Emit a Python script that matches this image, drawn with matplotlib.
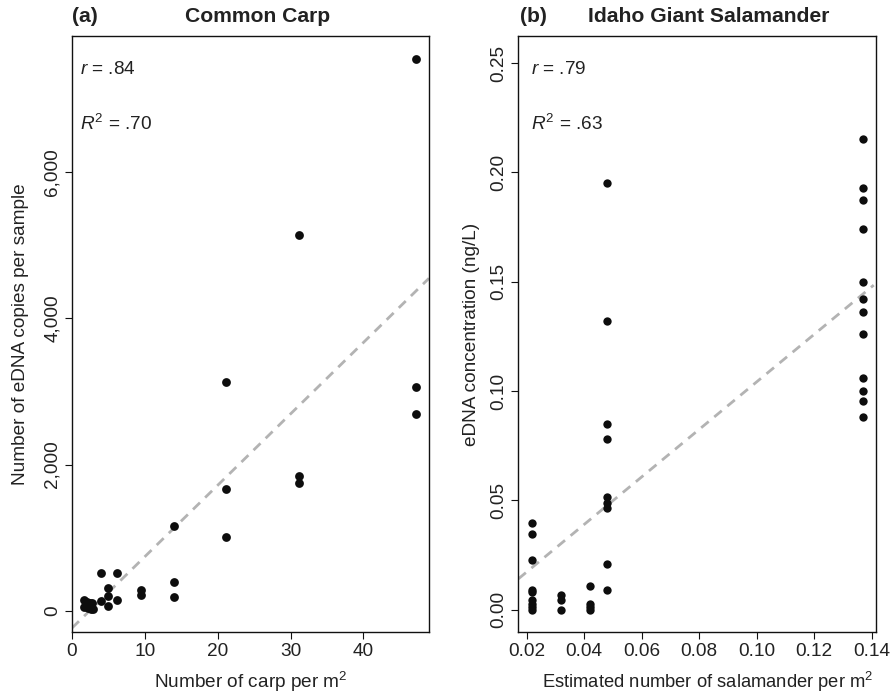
import numpy as np
import matplotlib
matplotlib.use("Agg")
import matplotlib.pyplot as plt
from matplotlib.ticker import FuncFormatter

plt.rcParams["font.family"] = ["Liberation Sans", "DejaVu Sans"]
plt.rcParams["mathtext.fontset"] = "custom"
plt.rcParams["mathtext.rm"] = "Liberation Sans"
plt.rcParams["mathtext.it"] = "Liberation Sans:italic"

# (a) common carp: density vs eDNA copies
carp_density = [47.2, 31.1, 21.2, 47.2, 47.2, 31.1, 31.1, 21.2, 14.0, 21.2,
                3.97, 6.17, 14.0, 5.0, 9.47, 9.47, 5.0, 14.0, 6.17, 3.97,
                5.0, 1.68, 1.68, 2.1, 2.5, 2.8, 2.2, 2.6, 2.9]
carp_copies = [7545, 5142, 3131, 3054, 2689, 1847, 1752, 1661, 1165, 1015,
               523, 523, 387, 305, 282, 209, 205, 191, 150, 127,
               68, 141, 50, 120, 100, 110, 40, 20, 30]
carp_fit = (-236, 97.6)  # intercept, slope

# (b) Idaho giant salamander: density vs eDNA concentration
sal_density = [0.137] * 12 + [0.048] * 9 + [0.022] * 9 + [0.032] * 3 + [0.042] * 4
sal_conc = [0.2151, 0.1927, 0.1874, 0.1741, 0.1497, 0.1422, 0.1361, 0.1262,
            0.1058, 0.1002, 0.0953, 0.0882,
            0.1951, 0.1319, 0.0848, 0.0780, 0.0514, 0.0490, 0.0465, 0.0209, 0.0092,
            0.0396, 0.0347, 0.0227, 0.0091, 0.0080, 0.0045, 0.0028, 0.0010, 0.0,
            0.0068, 0.0042, 0.0,
            0.0106, 0.0027, 0.0012, 0.0]
sal_fit = (-0.0045, 1.087)

txt = "#222222"
fs = 13.7
fig = plt.figure(figsize=(8.92, 6.97), dpi=100)
axA = fig.add_axes([0.0807, 0.0933, 0.4002, 0.8551])
axB = fig.add_axes([0.5811, 0.0933, 0.4010, 0.8551])


def style(ax):
    for s in ax.spines.values():
        s.set_linewidth(1.0)
        s.set_color("#111111")
    ax.tick_params(direction="out", length=5, width=0.8, color="#111111",
                   labelsize=fs, labelcolor=txt, pad=3)
    for lab in ax.get_yticklabels():
        lab.set_rotation(90)
        lab.set_va("center")


# panel a
axA.scatter(carp_density, carp_copies, s=40, color="#0d0d0d", zorder=3, linewidths=0)
xa = np.array([0, 49])
axA.plot(xa, carp_fit[0] + carp_fit[1] * xa, ls=(0, (3.5, 2.6)), color="#b3b3b3", lw=2, zorder=2)
axA.set_xlim(0, 49)
axA.set_ylim(-290, 7860)
axA.set_xticks([0, 10, 20, 30, 40])
axA.set_yticks([0, 2000, 4000, 6000])
axA.yaxis.set_major_formatter(FuncFormatter(lambda v, p: f"{int(v):,}"))
style(axA)
axA.set_xlabel("Number of carp per m$^2$", fontsize=fs, color=txt, labelpad=7)
axA.set_ylabel("Number of eDNA copies per sample", fontsize=fs, color=txt, labelpad=11)
axA.text(0.022, 0.943, "$r$ = .84", transform=axA.transAxes, fontsize=fs, va="center", color=txt)
axA.text(0.022, 0.852, "$R^2$ = .70", transform=axA.transAxes, fontsize=fs, va="center", color=txt)

# panel b
axB.scatter(sal_density, sal_conc, s=36, color="#0d0d0d", zorder=3, linewidths=0)
xb = np.array([0.0171, 0.1407])
axB.plot(xb, sal_fit[0] + sal_fit[1] * xb, ls=(0, (3.5, 2.6)), color="#b3b3b3", lw=2, zorder=2)
axB.set_xlim(0.0171, 0.1415)
axB.set_ylim(-0.0102, 0.2624)
axB.set_xticks([0.02, 0.04, 0.06, 0.08, 0.10, 0.12, 0.14])
axB.set_yticks([0.0, 0.05, 0.10, 0.15, 0.20, 0.25])
axB.xaxis.set_major_formatter(FuncFormatter(lambda v, p: f"{v:.2f}"))
axB.yaxis.set_major_formatter(FuncFormatter(lambda v, p: f"{v:.2f}"))
style(axB)
axB.set_xlabel("Estimated number of salamander per m$^2$", fontsize=13.2, color=txt,
               labelpad=7, x=0.53, ha="center")
axB.set_ylabel("eDNA concentration (ng/L)", fontsize=fs, color=txt, labelpad=7.5)
axB.text(0.035, 0.943, "$r$ = .79", transform=axB.transAxes, fontsize=fs, va="center", color=txt)
axB.text(0.035, 0.852, "$R^2$ = .63", transform=axB.transAxes, fontsize=fs, va="center", color=txt)

# titles
tfs = 15.2
fig.text(72 / 892, 1 - 17 / 697, "(a)", fontsize=tfs, fontweight="bold", va="center", color=txt)
fig.text(258 / 892, 1 - 17 / 697, "Common Carp", fontsize=tfs, fontweight="bold", va="center", ha="center", color=txt)
fig.text(520 / 892, 1 - 17 / 697, "(b)", fontsize=tfs, fontweight="bold", va="center", color=txt)
fig.text(709 / 892, 1 - 17 / 697, "Idaho Giant Salamander", fontsize=tfs, fontweight="bold", va="center", ha="center", color=txt)

fig.savefig("out.png", dpi=100)
